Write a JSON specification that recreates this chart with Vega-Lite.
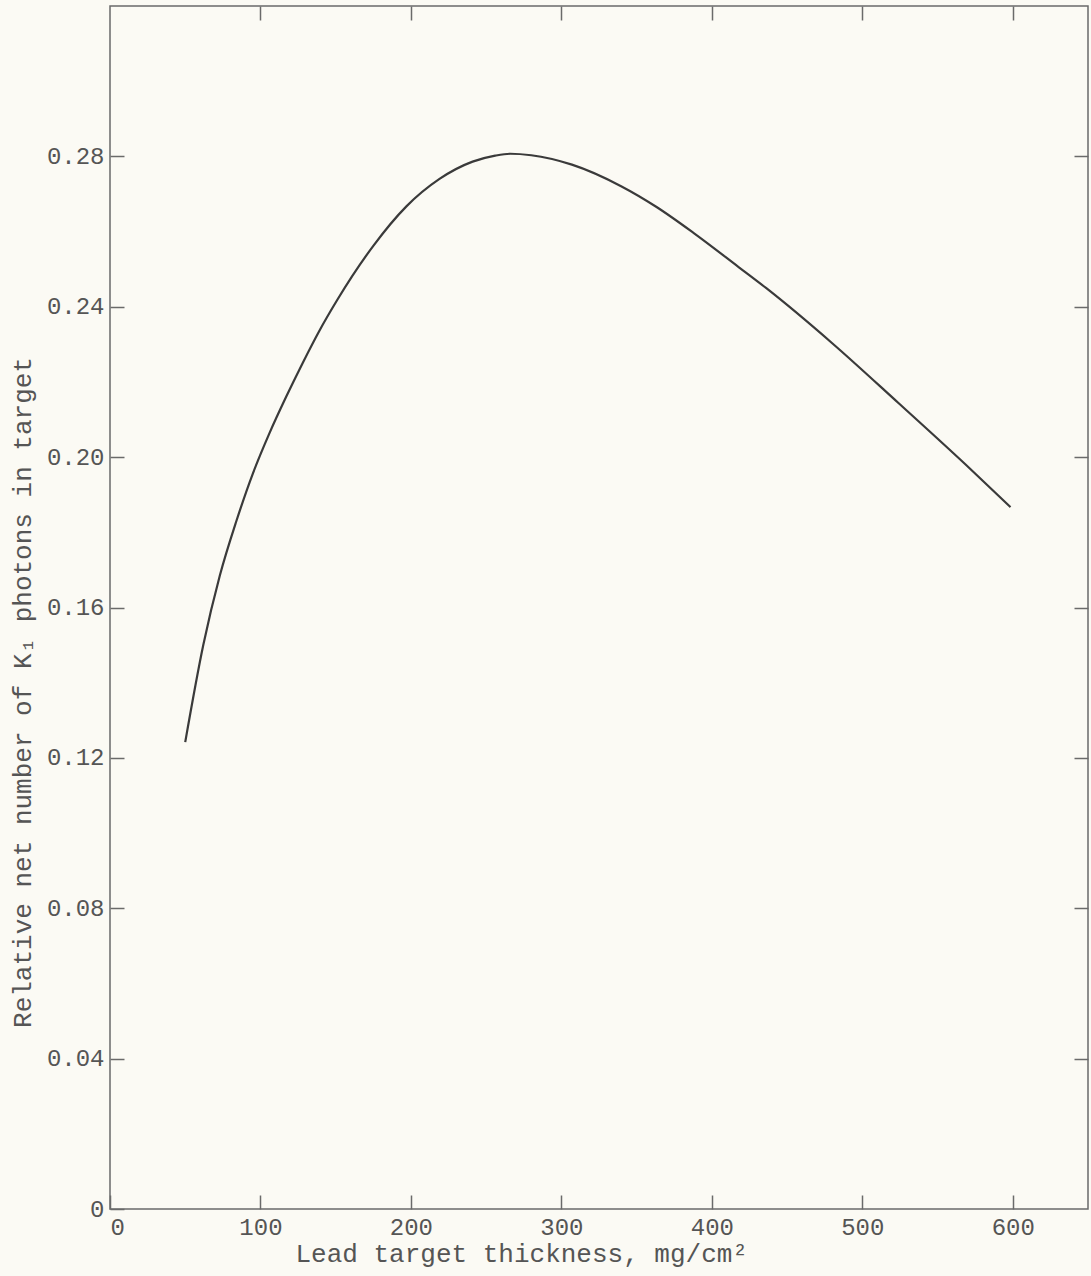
{
  "$schema": "https://vega.github.io/schema/vega-lite/v6.json",
  "width": 978,
  "height": 1203,
  "autosize": {"type": "none"},
  "padding": {"left": 110, "top": 6, "right": 3, "bottom": 67},
  "background": "#fbfaf4",
  "config": {
    "view": {"stroke": "#6a6a6a", "strokeWidth": 1.5},
    "axis": {
      "grid": false,
      "domain": false,
      "tickSize": -14,
      "tickColor": "#6a6a6a",
      "tickWidth": 1.5,
      "labelFont": "Liberation Mono",
      "labelFontSize": 24,
      "labelColor": "#555555",
      "titleFont": "Liberation Mono",
      "titleFontSize": 26,
      "titleFontWeight": "normal",
      "titleColor": "#555555"
    }
  },
  "data": {
    "values": [
      {"t": 50, "v": 0.1242},
      {"t": 62, "v": 0.1500},
      {"t": 73, "v": 0.1685},
      {"t": 84, "v": 0.1830},
      {"t": 95, "v": 0.1957},
      {"t": 106, "v": 0.2064},
      {"t": 117, "v": 0.2160},
      {"t": 128, "v": 0.2250},
      {"t": 139, "v": 0.2335},
      {"t": 151, "v": 0.2418},
      {"t": 175, "v": 0.2562},
      {"t": 197, "v": 0.2667},
      {"t": 219, "v": 0.2740},
      {"t": 241, "v": 0.2786},
      {"t": 256, "v": 0.2802},
      {"t": 266, "v": 0.2807},
      {"t": 280, "v": 0.2803},
      {"t": 307, "v": 0.2778},
      {"t": 340, "v": 0.2720},
      {"t": 363, "v": 0.2666},
      {"t": 388, "v": 0.2596},
      {"t": 418, "v": 0.2505},
      {"t": 436, "v": 0.2450},
      {"t": 480, "v": 0.2303},
      {"t": 524, "v": 0.2144},
      {"t": 569, "v": 0.1979},
      {"t": 598.5, "v": 0.1867}
    ]
  },
  "layer": [
    {
      "mark": {"type": "line", "interpolate": "monotone", "color": "#3a3a3a", "strokeWidth": 2.2},
      "encoding": {
        "x": {
          "field": "t",
          "type": "quantitative",
          "scale": {"domain": [0, 650], "nice": false, "zero": false},
          "axis": {
            "orient": "bottom",
            "values": [0, 100, 200, 300, 400, 500, 600],
            "labelPadding": 20,
            "title": "Lead target thickness, mg/cm²",
            "titleAnchor": "start",
            "titleAlign": "left",
            "titleX": 185,
            "titleY": 52,
            "titleBaseline": "alphabetic"
          }
        },
        "y": {
          "field": "v",
          "type": "quantitative",
          "scale": {"domain": [0, 0.32], "nice": false, "zero": false},
          "axis": {
            "orient": "left",
            "values": [0, 0.04, 0.08, 0.12, 0.16, 0.2, 0.24, 0.28],
            "labelExpr": "datum.value == 0 ? '0' : format(datum.value, '.2f')",
            "labelPadding": 20,
            "title": "Relative net number of K₁ photons in target",
            "titleAngle": -90,
            "titleAlign": "center",
            "titleBaseline": "middle",
            "titleX": -88,
            "titleY": 686
          }
        }
      }
    },
    {
      "mark": {"type": "line", "opacity": 0},
      "encoding": {
        "x": {
          "field": "t",
          "type": "quantitative",
          "scale": {"domain": [0, 650], "nice": false, "zero": false},
          "axis": {"orient": "top", "values": [100, 200, 300, 400, 500, 600], "labels": false, "title": null}
        },
        "y": {
          "field": "v",
          "type": "quantitative",
          "scale": {"domain": [0, 0.32], "nice": false, "zero": false},
          "axis": {"orient": "right", "values": [0.04, 0.08, 0.12, 0.16, 0.2, 0.24, 0.28], "labels": false, "title": null}
        }
      }
    }
  ],
  "resolve": {"axis": {"x": "independent", "y": "independent"}}
}
